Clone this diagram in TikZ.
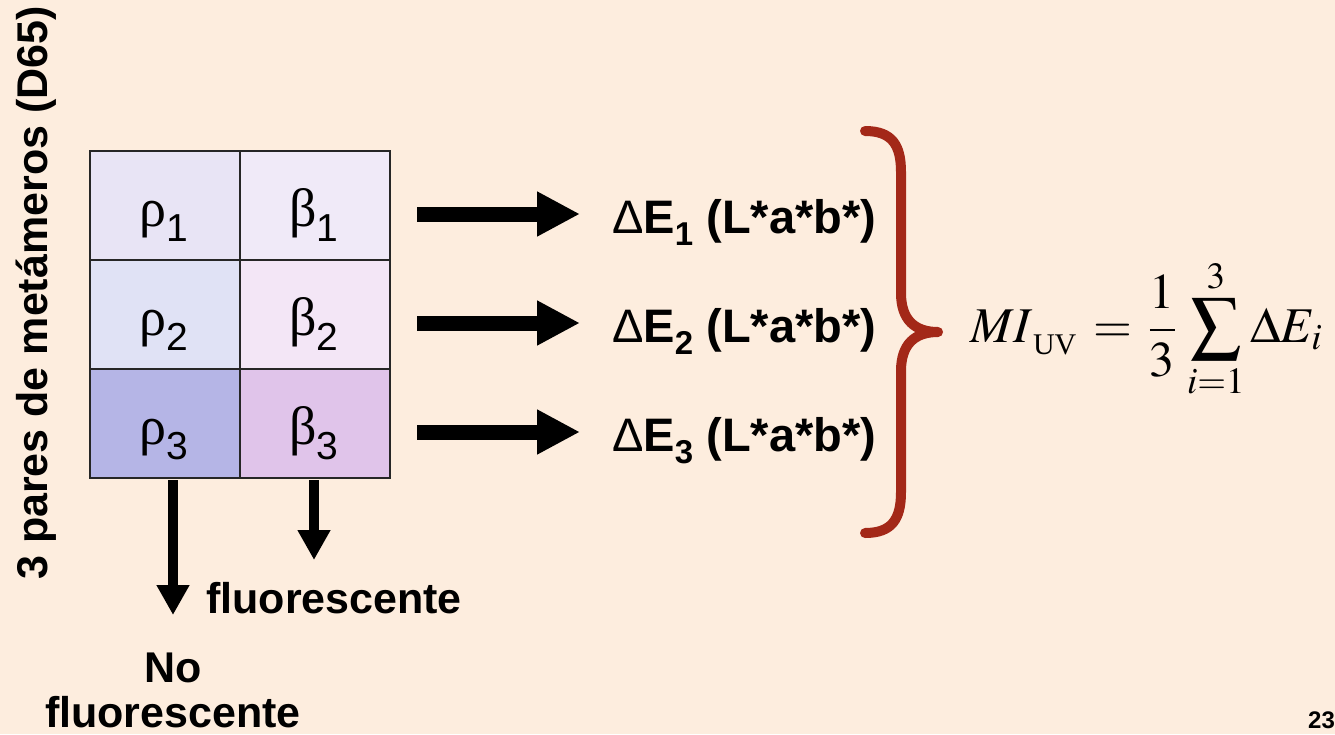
\documentclass[tikz,border=0pt]{standalone}
\usepackage{mathptmx}
\usepackage[no-math]{fontspec}
\setmainfont{Liberation Sans}
\newfontfamily\grk{Liberation Serif}
\usetikzlibrary{arrows.meta}
\definecolor{bg}{RGB}{253,237,222}
\definecolor{bracered}{RGB}{163,40,24}
\definecolor{cA}{RGB}{232,228,245}
\definecolor{cB}{RGB}{240,234,248}
\definecolor{cC}{RGB}{224,226,245}
\definecolor{cD}{RGB}{243,230,246}
\definecolor{cE}{RGB}{181,181,230}
\definecolor{cF}{RGB}{224,196,234}
\newcommand{\cellsym}[2]{{\fontsize{54}{56}\selectfont\grk #1}\raisebox{-15pt}{\fontsize{39}{40}\selectfont #2}}
\newcommand{\delabel}[1]{{\mdseries\char"0394}E\raisebox{-12pt}{\fontsize{33}{33}\selectfont #1} (L*a*b*)}
\begin{document}
\begin{tikzpicture}[x=1pt,y=-1pt,
  cell/.style={draw=black!85, line width=1.5pt, minimum width=150pt, minimum height=109pt, inner sep=0pt, anchor=north west},
  sym/.style={inner sep=0pt, anchor=base},
  harrow/.style={line width=15pt, -{Triangle[width=42pt,length=43pt]}},
  varrow/.style={line width=10.5pt, -{Triangle[width=31pt,length=30pt]}},
  lbl/.style={font=\fontsize{47}{50}\selectfont\bfseries, inner sep=0pt, anchor=base west},
  bold44/.style={font=\fontsize{43}{46}\selectfont\bfseries, inner sep=0pt},
  bracepath/.style={draw=bracered, line width=10pt, line cap=round, line join=round}]
\fill[bg] (0,0) rectangle (1335,734);
\useasboundingbox (0,0) rectangle (1335,734);

% grid
\node[cell, fill=cA] (c11) at (89,150) {};
\node[cell, fill=cB] (c12) at (239,150) {};
\node[cell, fill=cC] (c21) at (89,259) {};
\node[cell, fill=cD] (c22) at (239,259) {};
\node[cell, fill=cE] (c31) at (89,368) {};
\node[cell, fill=cF] (c32) at (239,368) {};

\node[sym] (r1) at (164,226) {\cellsym{ρ}{1}};
\node[sym] (b1) at (314,226) {\cellsym{β}{1}};
\node[sym] (r2) at (164,335) {\cellsym{ρ}{2}};
\node[sym] (b2) at (314,335) {\cellsym{β}{2}};
\node[sym] (r3) at (164,444) {\cellsym{ρ}{3}};
\node[sym] (b3) at (314,444) {\cellsym{β}{3}};

% right arrows
\coordinate (h1s) at (417,214); \coordinate (h1e) at (580,214);
\coordinate (h2s) at (417,323); \coordinate (h2e) at (580,323);
\coordinate (h3s) at (417,432); \coordinate (h3e) at (580,432);
\draw[harrow] (h1s) -- (h1e);
\draw[harrow] (h2s) -- (h2e);
\draw[harrow] (h3s) -- (h3e);

\node[lbl] (de1) at (612,233) {\delabel{1}};
\node[lbl] (de2) at (612,342) {\delabel{2}};
\node[lbl] (de3) at (612,451) {\delabel{3}};

% brace
\draw[bracepath] (865,131) .. controls (892,131) and (901,145) .. (901,172)
  -- (901,293) .. controls (901,320) and (915,332) .. (938,332)
  .. controls (915,332) and (901,344) .. (901,371)
  -- (901,492) .. controls (901,519) and (892,533) .. (865,533);

% formula
\node[inner sep=0pt, anchor=base west, font=\fontsize{50}{60}\selectfont] (mi) at (970,342)
  {$\displaystyle MI\raisebox{-12pt}{\fontsize{30}{30}\selectfont\grk UV}\mkern2mu=\mkern2mu\frac{1}{3}\mkern2mu\sum_{i=1}^{3}\Delta E_i$};

% down arrows
\coordinate (v1s) at (173,480); \coordinate (v1e) at (173,615);
\coordinate (v2s) at (314,480); \coordinate (v2e) at (314,560);
\draw[varrow] (v1s) -- (v1e);
\draw[varrow] (v2s) -- (v2e);

\node[bold44, anchor=base west] (fl) at (206,613) {fluorescente};
\node[bold44, anchor=base] (no) at (173,682) {No};
\node[bold44, anchor=base] (nofl) at (173,727) {fluorescente};

% vertical title
\node[bold44, anchor=base, rotate=90] (title) at (47,293) {3 pares de metámeros (D65)};

% page number
\node[inner sep=0pt, anchor=base west, font=\fontsize{24}{26}\selectfont\bfseries] (pg) at (1308,728) {23};
\end{tikzpicture}
\end{document}
